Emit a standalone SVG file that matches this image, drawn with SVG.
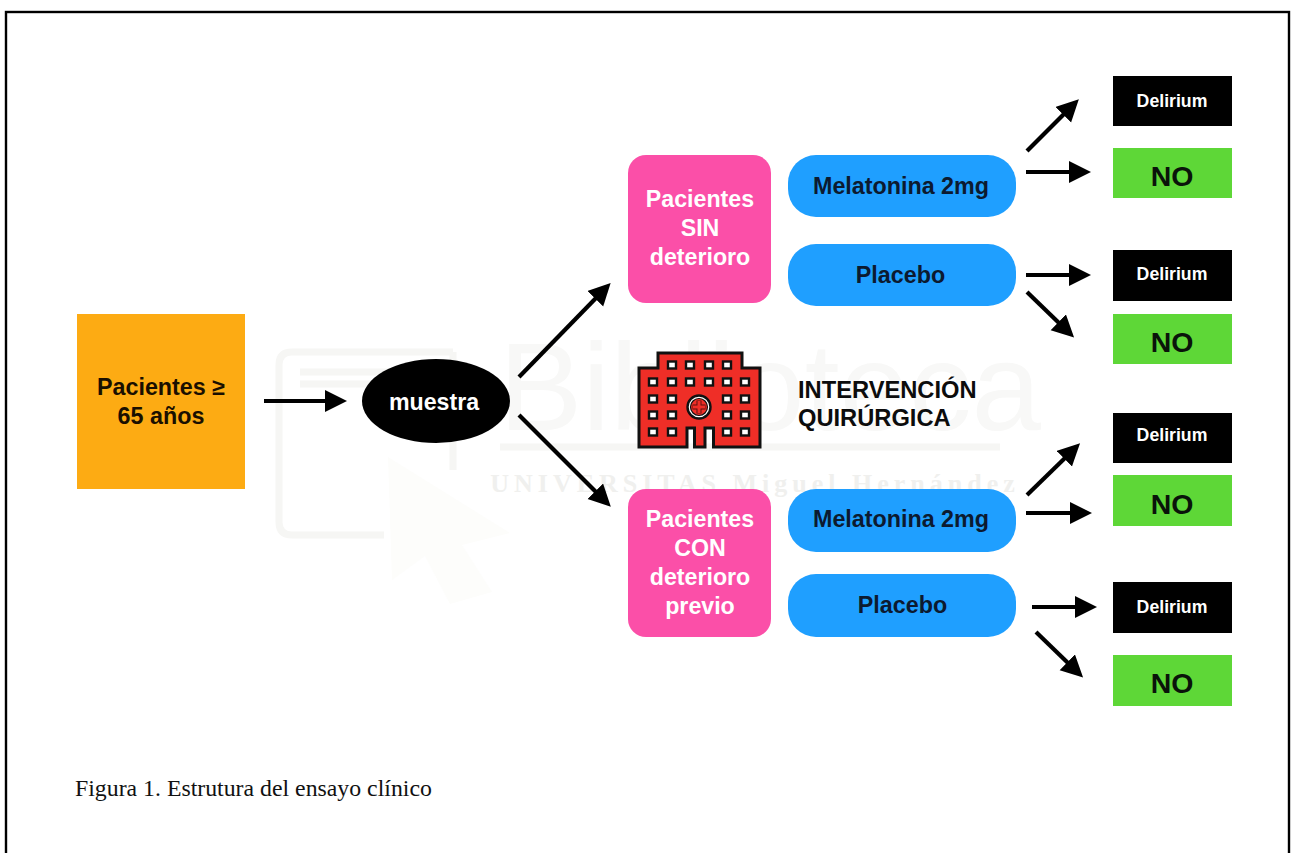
<svg xmlns="http://www.w3.org/2000/svg" width="1294" height="853" viewBox="0 0 1294 853">
<style>
text{font-family:"Liberation Sans",Arial,sans-serif;text-anchor:middle}
.o{font-weight:700;font-size:23.300px;fill:#1a0f00}
.b{font-weight:700;font-size:23.300px;fill:#0c1a30}
.w{font-weight:700;font-size:23.200px;fill:#fff}
.d{font-weight:700;font-size:17.700px;fill:#fff}
.n{font-weight:700;font-size:28.500px;fill:#0a140a}
.iq{font-weight:700;font-size:23.700px;fill:#0c0c0c;text-anchor:start}
.pink{fill:#fb4fa8}.blue{fill:#1f9fff}.blk{fill:#000}.grn{fill:#5ed737}
.c line{stroke:#000;stroke-width:4.200;marker-end:url(#a)}
.win rect{fill:#fff;stroke:#111;stroke-width:2.400}
.wm{fill:none;stroke:#f6f6f4;stroke-width:7}
</style>
<defs>
<marker id="a" markerUnits="userSpaceOnUse" markerWidth="24" markerHeight="24" refX="1" refY="11" orient="auto"><path d="M0 0L22 11L0 22Z" fill="#000"/></marker>
</defs>
<rect width="1294" height="853" fill="#fff"/>
<g id="watermark">
<path class="wm" d="M453 352H292Q279 352 279 365V522Q279 535 292 535H384M300 372H450M300 384H450M453 352V470"/>
<path d="M388 457L510 533L462 545L492 592L450 604L425 556L392 580Z" fill="#fdfdfb"/>
<text x="770" y="430" font-size="125" fill="#f8f8f7">Biblioteca</text>
<path class="wm" d="M500 447H1000"/>
<text x="755" y="492" font-size="26" fill="#f0f0ee" style="font-family:'Liberation Serif',serif;font-weight:700" letter-spacing="5">UNIVERSITAS Miguel Hernández</text>
</g>
<rect id="frame" x="6" y="12" width="1283" height="860" fill="none" stroke="#000" stroke-width="2.400"/>
<g id="n-pacientes"><rect x="77" y="314" width="168" height="175" fill="#fdab13"/><text class="o" x="161" y="395">Pacientes ≥</text><text class="o" x="161" y="424">65 años</text></g>
<g id="n-muestra"><ellipse cx="436" cy="401" rx="74" ry="42" fill="#000"/><text class="w" x="434" y="410">muestra</text></g>
<g id="n-sin"><rect class="pink" x="628" y="155" width="143" height="148" rx="18"/><text class="w" x="700" y="207">Pacientes</text><text class="w" x="700" y="236">SIN</text><text class="w" x="700" y="265">deterioro</text></g>
<g id="n-con"><rect class="pink" x="628" y="489" width="143" height="148" rx="18"/><text class="w" x="700" y="527">Pacientes</text><text class="w" x="700" y="556">CON</text><text class="w" x="700" y="585">deterioro</text><text class="w" x="700" y="614">previo</text></g>
<g id="n-mel1"><rect class="blue" x="788" y="155" width="228" height="62" rx="28"/><text class="b" x="901" y="194">Melatonina 2mg</text></g>
<g id="n-pla1"><rect class="blue" x="788" y="244" width="228" height="62" rx="28"/><text class="b" x="900.500" y="283">Placebo</text></g>
<g id="n-mel2"><rect class="blue" x="788" y="489" width="228" height="63" rx="28"/><text class="b" x="901" y="527">Melatonina 2mg</text></g>
<g id="n-pla2"><rect class="blue" x="788" y="574" width="228" height="63" rx="28"/><text class="b" x="902.500" y="613">Placebo</text></g>
<g id="n-del1"><rect class="blk" x="1113" y="76" width="119" height="50"/><text class="d" x="1172" y="107">Delirium</text></g>
<g id="n-no1"><rect class="grn" x="1113" y="148" width="119" height="50"/><text class="n" x="1172" y="186">NO</text></g>
<g id="n-del2"><rect class="blk" x="1113" y="250" width="119" height="51"/><text class="d" x="1172" y="280">Delirium</text></g>
<g id="n-no2"><rect class="grn" x="1113" y="314" width="119" height="50"/><text class="n" x="1172" y="352">NO</text></g>
<g id="n-del3"><rect class="blk" x="1113" y="413" width="119" height="50"/><text class="d" x="1172" y="441">Delirium</text></g>
<g id="n-no3"><rect class="grn" x="1113" y="475" width="119" height="51"/><text class="n" x="1172" y="514">NO</text></g>
<g id="n-del4"><rect class="blk" x="1113" y="582" width="119" height="51"/><text class="d" x="1172" y="613">Delirium</text></g>
<g id="n-no4"><rect class="grn" x="1113" y="655" width="119" height="51"/><text class="n" x="1172" y="693">NO</text></g>
<g id="n-hospital">
<path d="M658 353H742V368H760V447H713.500V428H705V447H694.500V428H687V447H639V368H658Z" fill="#ef2e27" stroke="#111" stroke-width="3"/>
<g class="win">
<rect x="668" y="361.500" width="8" height="7"/><rect x="686" y="361.500" width="8" height="7"/><rect x="705" y="361.500" width="8" height="7"/><rect x="723" y="361.500" width="8" height="7"/>
<rect x="649" y="378.500" width="8" height="7"/><rect x="668" y="378.500" width="8" height="7"/><rect x="686" y="378.500" width="8" height="7"/><rect x="705" y="378.500" width="8" height="7"/><rect x="723" y="378.500" width="8" height="7"/><rect x="741" y="378.500" width="8" height="7"/>
<rect x="649" y="395.500" width="8" height="7"/><rect x="668" y="395.500" width="8" height="7"/><rect x="723" y="395.500" width="8" height="7"/><rect x="741" y="395.500" width="8" height="7"/>
<rect x="649" y="411.500" width="8" height="7"/><rect x="668" y="411.500" width="8" height="7"/><rect x="723" y="411.500" width="8" height="7"/><rect x="741" y="411.500" width="8" height="7"/>
<rect x="649" y="428.500" width="8" height="7"/><rect x="668" y="428.500" width="8" height="7"/><rect x="723" y="428.500" width="8" height="7"/><rect x="741" y="428.500" width="8" height="7"/>
</g>
<circle cx="699" cy="407" r="11.500" fill="#fff" stroke="#111" stroke-width="2.400"/>
<circle cx="699" cy="407" r="8.500" fill="#ef2e27" stroke="#111" stroke-width="1.200"/>
<path d="M699 400.500V413.500M692.500 407H705.500" stroke="#5c100e" stroke-width="5" fill="none"/>
<path d="M699 401V413M693 407H705" stroke="#ef2e27" stroke-width="3" fill="none"/>
</g>
<g id="n-intervencion"><text class="iq" x="798" y="398">INTERVENCIÓN</text><text class="iq" x="798" y="426">QUIRÚRGICA</text></g>
<g id="connectors" class="c">
<line x1="264" y1="401" x2="326" y2="401"/>
<line x1="519" y1="377" x2="596" y2="298"/>
<line x1="519" y1="415" x2="596" y2="492"/>
<line x1="1027" y1="151" x2="1064" y2="114"/>
<line x1="1026" y1="172" x2="1070" y2="172"/>
<line x1="1026" y1="275" x2="1070" y2="275"/>
<line x1="1027" y1="292" x2="1059" y2="323"/>
<line x1="1027" y1="495" x2="1065" y2="458"/>
<line x1="1026" y1="513" x2="1071" y2="513"/>
<line x1="1032" y1="607" x2="1076" y2="607"/>
<line x1="1036" y1="632" x2="1068" y2="663"/>
</g>
<text id="caption" x="75" y="796" style="text-anchor:start;font-family:'Liberation Serif',serif;font-size:23.800px" fill="#111">Figura 1. Estrutura del ensayo clínico</text>
</svg>
